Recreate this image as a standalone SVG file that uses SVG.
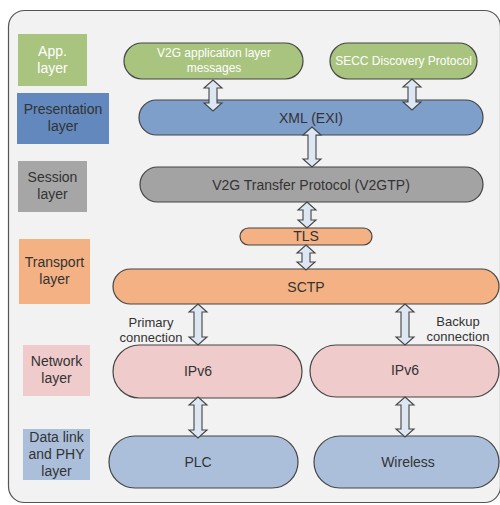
<svg xmlns="http://www.w3.org/2000/svg" width="500" height="505" viewBox="0 0 500 505">
<style>
text{font-family:"Liberation Sans",Arial,sans-serif;font-size:14px;fill:#333;text-anchor:middle}
.w{fill:#fff}
.pill{stroke:#444;stroke-width:1.2}
.g{fill:#a9c47f}.b{fill:#7f9fcb}.gr{fill:#a3a3a3}.o{fill:#f4b183}.p{fill:#efcbcb}.lb{fill:#abbfdb}
.arr{fill:#dde6f3;stroke:#444;stroke-width:1.1;stroke-linejoin:miter}
</style>
<rect x="8.5" y="10.5" width="492" height="492" rx="16" fill="#f2f2f2" stroke="#555" stroke-width="1.2"/>
<g id="lbl-app"><rect x="18" y="34" width="69" height="52" fill="#a9c47f"/><text class="w" x="52.5" y="56">App.</text><text class="w" x="52.5" y="73">layer</text></g>
<g id="lbl-pres"><rect x="17" y="93" width="92" height="51" fill="#6288bd"/><text x="63" y="114">Presentation</text><text x="63" y="131">layer</text></g>
<g id="lbl-sess"><rect x="18" y="161" width="69" height="51" fill="#a6a6a6"/><text x="52.5" y="182">Session</text><text x="52.5" y="199">layer</text></g>
<g id="lbl-trans"><rect x="19" y="239" width="71" height="65" fill="#f4b183"/><text x="54.5" y="267">Transport</text><text x="54.5" y="284">layer</text></g>
<g id="lbl-net"><rect x="23" y="345" width="67" height="51" fill="#efcbcb"/><text x="56.5" y="366">Network</text><text x="56.5" y="383">layer</text></g>
<g id="lbl-dl"><rect x="23" y="429" width="67" height="51" fill="#abbfdb"/><text x="56.5" y="442">Data link</text><text x="56.5" y="459">and PHY</text><text x="56.5" y="476">layer</text></g>

<g id="v2g-app"><rect class="pill g" x="124" y="43" width="179" height="36" rx="18"/><text class="w" x="214" y="57" style="font-size:12px">V2G application layer</text><text class="w" x="214" y="72" style="font-size:12px">messages</text></g>
<g id="secc"><rect class="pill g" x="330" y="43" width="147" height="36" rx="18"/><text class="w" x="403.5" y="65" style="font-size:12px">SECC Discovery Protocol</text></g>
<g id="xml"><rect class="pill b" x="139" y="100" width="344" height="35" rx="17.5"/><text x="311" y="123">XML (EXI)</text></g>
<g id="v2gtp"><rect class="pill gr" x="140" y="167" width="343" height="35" rx="17.5"/><text x="311" y="190">V2G Transfer Protocol (V2GTP)</text></g>
<g id="tls"><rect class="pill o" x="240" y="228" width="132" height="17" rx="8.5"/><text x="306" y="241">TLS</text></g>
<g id="sctp"><rect class="pill o" x="113" y="269" width="386" height="35" rx="17.5"/><text x="306" y="292">SCTP</text></g>
<g id="ipv6-l"><rect class="pill p" x="113" y="345" width="189" height="53" rx="26.5"/><text x="198" y="376">IPv6</text></g>
<g id="ipv6-r"><rect class="pill p" x="310" y="345" width="189" height="52" rx="26"/><text x="405" y="375">IPv6</text></g>
<g id="plc"><rect class="pill lb" x="109" y="436" width="189" height="52" rx="26"/><text x="198" y="467">PLC</text></g>
<g id="wireless"><rect class="pill lb" x="314" y="436" width="185" height="52" rx="26"/><text x="408" y="467">Wireless</text></g>

<g id="connectors">
<path class="arr" d="M213,80 L222,88 L217,88 L217,103 L222,103 L213,111 L204,103 L209,103 L209,88 L204,88 Z"/>
<path class="arr" d="M412,79 L421,87 L416,87 L416,102 L421,102 L412,110 L403,102 L408,102 L408,87 L403,87 Z"/>
<path class="arr" d="M312,127 L321,135 L316,135 L316,159 L321,159 L312,167 L303,159 L308,159 L308,135 L303,135 Z"/>
<path class="arr" d="M307,202 L316,210 L311,210 L311,220 L316,220 L307,228 L298,220 L303,220 L303,210 L298,210 Z"/>
<path class="arr" d="M306,245 L315,253 L310,253 L310,262 L315,262 L306,270 L297,262 L302,262 L302,253 L297,253 Z"/>
<path class="arr" d="M198,304 L207,312 L202,312 L202,337 L207,337 L198,345 L189,337 L194,337 L194,312 L189,312 Z"/>
<path class="arr" d="M405,304 L414,312 L409,312 L409,337 L414,337 L405,345 L396,337 L401,337 L401,312 L396,312 Z"/>
<path class="arr" d="M198,397 L207,405 L202,405 L202,430 L207,430 L198,438 L189,430 L194,430 L194,405 L189,405 Z"/>
<path class="arr" d="M405,397 L414,405 L409,405 L409,429 L414,429 L405,437 L396,429 L401,429 L401,405 L396,405 Z"/>
</g>

<g id="labels">
<text x="151" y="327" style="font-size:13px">Primary</text><text x="151" y="342" style="font-size:13px">connection</text>
<text x="458" y="326" style="font-size:13px">Backup</text><text x="458" y="341" style="font-size:13px">connection</text>
</g>
</svg>
